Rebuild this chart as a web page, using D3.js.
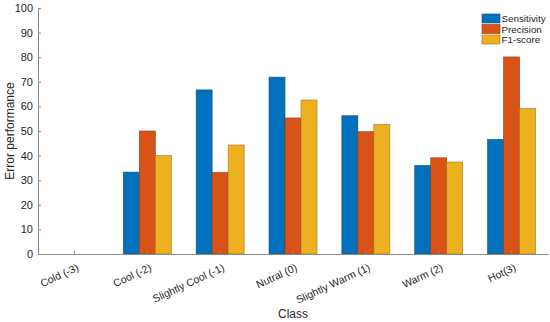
<!DOCTYPE html>
<html>
<head>
<meta charset="utf-8">
<script src="https://cdn.jsdelivr.net/npm/d3@7"></script>
<style>
  body { margin: 0; background: #fff; }
  text { font-family: "Liberation Sans", Arial, sans-serif; fill: #262626; }
</style>
</head>
<body>
<svg id="chart"></svg>
<script>
// classes on the x axis
const classes = ["Cold (-3)", "Cool (-2)", "Slightly Cool (-1)", "Nutral (0)", "Slightly Warm (1)", "Warm (2)", "Hot(3)"];
const metrics = ["Sensitivity", "Precision", "F1-score"];
const sensitivity = [0, 33.3, 66.7, 71.9, 56.2, 36.0, 46.6];
const precision   = [0, 50.0, 33.1, 55.3, 49.7, 39.1, 80.1];
const f1score     = [0, 40.0, 44.3, 62.6, 52.7, 37.4, 59.1];
const yTicks = [0, 10, 20, 30, 40, 50, 60, 70, 80, 90, 100];

const colors = ["#0072BD", "#D95319", "#EDB120"];
const edges = ["#1f4f7a", "#8a3a14", "#9a7a20"];

const W = 550, H = 322;
const margin = { top: 8, right: 2, bottom: 68, left: 38 };
const width = W - margin.left - margin.right;
const height = H - margin.top - margin.bottom;

const svg = d3.select("#chart").attr("width", W).attr("height", H);
const chart = svg.append("g").attr("transform", `translate(${margin.left},${margin.top})`);

const data = classes.map((c, i) => ({
  cls: c,
  vals: [sensitivity[i], precision[i], f1score[i]]
}));

const x = d3.scaleBand().domain(classes).range([0, width]);
const xInner = d3.scaleBand().domain(metrics).range([0, 48]);
const y = d3.scaleLinear().domain([0, 100]).range([height, 0]);

// bars
const groups = chart.selectAll(".grp")
  .data(data)
  .join("g")
    .attr("class", "grp")
    .attr("transform", d => `translate(${x(d.cls) + x.bandwidth() / 2 - 24},0)`);

groups.selectAll("rect")
  .data(d => d.vals.map((v, k) => ({ v: v, k: k })).filter(d => d.v > 0))
  .join("rect")
    .attr("x", d => xInner(metrics[d.k]))
    .attr("y", d => y(d.v))
    .attr("width", xInner.bandwidth())
    .attr("height", d => height - y(d.v))
    .attr("fill", d => colors[d.k])
    .attr("stroke", d => edges[d.k])
    .attr("stroke-width", 0.6);

// axes
const axisColor = "#8c8c8c";
const yAxis = d3.axisLeft(y).tickValues(yTicks).tickSize(-3).tickPadding(5);
const yG = chart.append("g").call(yAxis);
yG.select(".domain").attr("stroke", axisColor);
yG.selectAll(".tick line").attr("stroke", axisColor);
yG.selectAll(".tick text").style("font-size", "11px").attr("fill", "#262626");

const xAxis = d3.axisBottom(x).tickSize(-3).tickPadding(6).tickSizeOuter(0);
const xG = chart.append("g").attr("transform", `translate(0,${height})`).call(xAxis);
xG.select(".domain").attr("stroke", axisColor);
xG.selectAll(".tick line").attr("stroke", axisColor);
xG.selectAll(".tick text")
  .style("font-size", "10.5px")
  .attr("fill", "#262626")
  .attr("text-anchor", "end")
  .attr("y", 0)
  .attr("dy", "0")
  .attr("transform", "translate(5,16) rotate(-25)");

// axis labels
svg.append("text")
  .attr("x", margin.left + width / 2)
  .attr("y", 318)
  .attr("text-anchor", "middle")
  .style("font-size", "12px")
  .text("Class");

svg.append("text")
  .attr("transform", `translate(14,${margin.top + height / 2}) rotate(-90)`)
  .attr("text-anchor", "middle")
  .style("font-size", "12px")
  .text("Error performance");

// legend
const leg = svg.selectAll(".leg")
  .data(metrics)
  .join("g")
    .attr("class", "leg")
    .attr("transform", (d, i) => `translate(482,${14 + i * 10.5})`);

leg.append("rect")
  .attr("width", 18)
  .attr("height", 9)
  .attr("fill", (d, i) => colors[i])
  .attr("stroke", (d, i) => edges[i])
  .attr("stroke-width", 0.6);

leg.append("text")
  .attr("x", 19.5)
  .attr("y", 8.3)
  .style("font-size", "9.8px")
  .text(d => d);
</script>
</body>
</html>
